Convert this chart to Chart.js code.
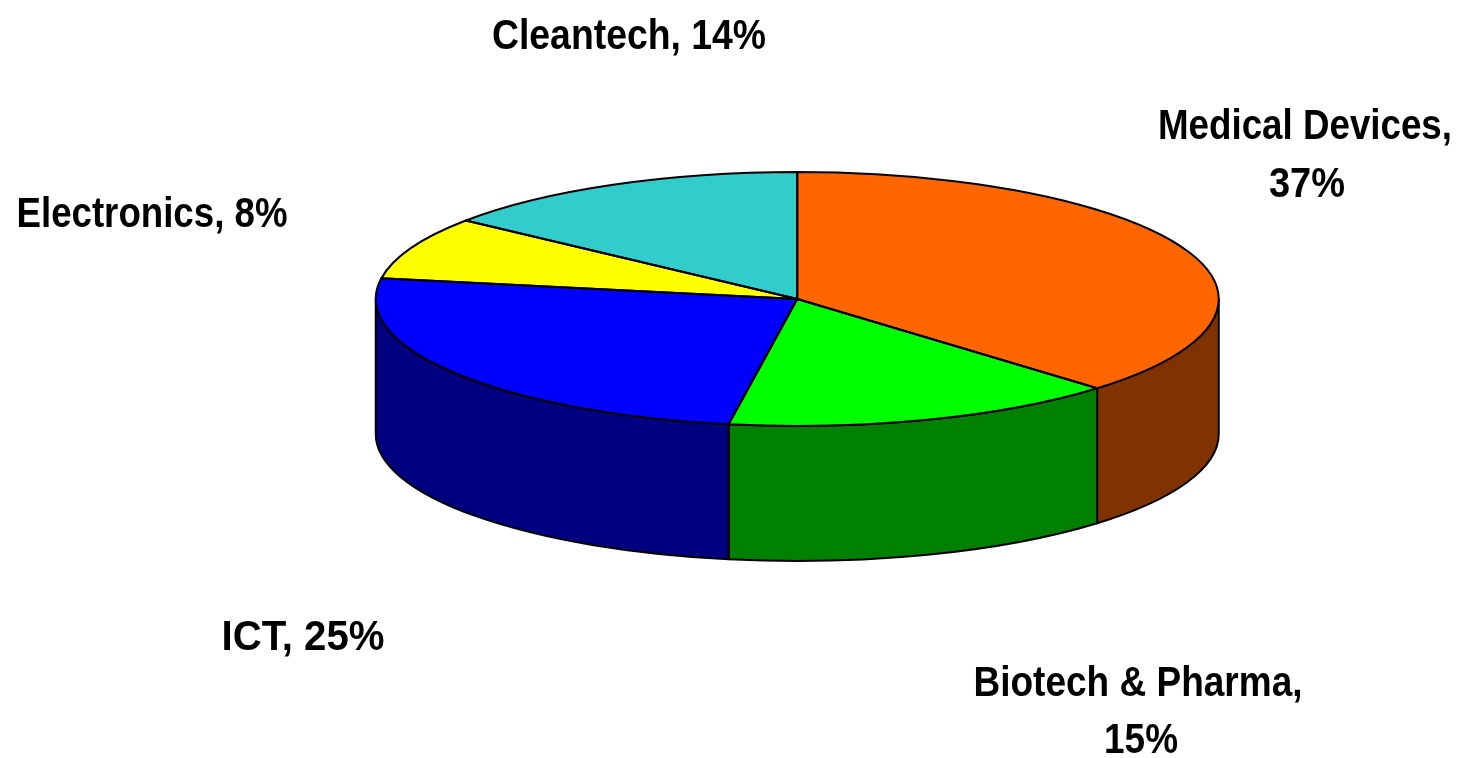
<!DOCTYPE html>
<html>
<head>
<meta charset="utf-8">
<style>html,body{margin:0;padding:0;background:#fff}canvas{display:block}</style>
<script src="https://cdn.jsdelivr.net/npm/chart.js@4/dist/chart.umd.min.js"></script>
</head>
<body>
<canvas id="c" width="1458" height="758"></canvas>
<script>
const categories = ['Medical Devices', 'Biotech & Pharma', 'ICT', 'Electronics', 'Cleantech'];
const values = [37.4, 15.2, 25.0, 8.0, 14.4];
const topColors = ['#FF6600', '#00FF00', '#0000FF', '#FFFF00', '#33CCCC'];
const sideColors = ['#803300', '#008000', '#000080', '#808000', '#196666'];

const TILT = 127 / 421.5;
const DEPTH = 135;
const LABEL_FONT = 'bold 42px "Liberation Sans", Arial, sans-serif';
// Placement of each label: text lines (built from the data) centred at xs, with a y per line and a fitted width
const labelPlacement = [
  {xs: [1305, 1307], ys: [127, 185], widths: [294, 76], breakAfterName: true},
  {xs: [1138, 1141], ys: [684, 741], widths: [329, 74], breakAfterName: true},
  {xs: [303],  ys: [638], widths: [163]},
  {xs: [152],  ys: [215], widths: [271]},
  {xs: [629],  ys: [37],  widths: [274]}
];

const pie3d = {
  id: 'pie3d',
  beforeDatasetsDraw(chart) {
    const ctx = chart.ctx;
    const arcs = chart.getDatasetMeta(0).data;
    ctx.save();
    ctx.lineWidth = 2;
    ctx.strokeStyle = '#000';
    ctx.lineJoin = 'round';
    arcs.forEach((arc, i) => {
      const {x, y, outerRadius: r, startAngle, endAngle} = arc.getProps(['x', 'y', 'outerRadius', 'startAngle', 'endAngle']);
      const a = Math.max(startAngle, 0);
      const b = Math.min(endAngle, Math.PI);
      if (b <= a) return;
      ctx.beginPath();
      ctx.ellipse(x, y, r, r * TILT, 0, a, b);
      ctx.ellipse(x, y + DEPTH, r, r * TILT, 0, b, a, true);
      ctx.closePath();
      ctx.fillStyle = sideColors[i];
      ctx.fill();
      ctx.stroke();
    });
    ctx.restore();
  },
  beforeDatasetDraw(chart) {
    const ctx = chart.ctx;
    const arc = chart.getDatasetMeta(0).data[0];
    const {x, y} = arc.getProps(['x', 'y']);
    ctx.save();
    ctx.translate(x, y);
    ctx.scale(1, TILT);
    ctx.translate(-x, -y);
  },
  afterDatasetDraw(chart) {
    chart.ctx.restore();
  },
  afterDatasetsDraw(chart) {
    const ctx = chart.ctx;
    const arcs = chart.getDatasetMeta(0).data;
    ctx.save();
    ctx.lineWidth = 2;
    ctx.strokeStyle = '#000';
    ctx.lineJoin = 'round';
    arcs.forEach(arc => {
      const {x, y, outerRadius: r, startAngle, endAngle} = arc.getProps(['x', 'y', 'outerRadius', 'startAngle', 'endAngle']);
      ctx.beginPath();
      ctx.moveTo(x, y);
      ctx.ellipse(x, y, r, r * TILT, 0, startAngle, endAngle);
      ctx.closePath();
      ctx.stroke();
    });
    ctx.restore();
  },
  afterDraw(chart) {
    const ctx = chart.ctx;
    ctx.save();
    ctx.font = LABEL_FONT;
    ctx.fillStyle = '#000';
    ctx.textAlign = 'center';
    ctx.textBaseline = 'middle';
    categories.forEach((name, i) => {
      const p = labelPlacement[i];
      const pct = Math.round(values[i]) + '%';
      const lines = p.breakAfterName ? [name + ',', pct] : [name + ', ' + pct];
      lines.forEach((t, k) => ctx.fillText(t, p.xs[k], p.ys[k], p.widths[k]));
    });
    ctx.restore();
  }
};

new Chart(document.getElementById('c'), {
  type: 'pie',
  data: {
    labels: categories,
    datasets: [{
      data: values,
      backgroundColor: topColors,
      borderWidth: 0,
      clip: false
    }]
  },
  options: {
    responsive: false,
    animation: false,
    radius: 421.5,
    layout: {padding: {left: 136.5, bottom: 160}},
    plugins: {legend: {display: false}, tooltip: {enabled: false}},
    events: []
  },
  plugins: [pie3d]
});
</script>
</body>
</html>
